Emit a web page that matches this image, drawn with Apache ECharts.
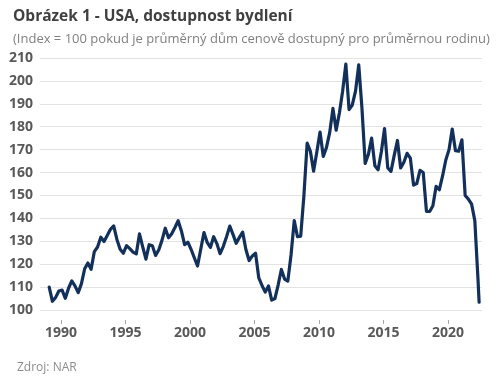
<!DOCTYPE html>
<html>
<head>
<meta charset="utf-8">
<script src="https://cdn.jsdelivr.net/npm/echarts@6/dist/echarts.min.js"></script>
<style>
html,body{margin:0;padding:0;background:#fff;}
#chart{width:500px;height:386px;}
</style>
</head>
<body>
<div id="chart"></div>
<script>
// Period of each observation (year-month), quarterly samples
const periods = [
 '1989-02','1989-05','1989-08','1989-11',
 '1990-02','1990-05','1990-08','1990-11',
 '1991-02','1991-05','1991-08','1991-11',
 '1992-02','1992-05','1992-08','1992-11',
 '1993-02','1993-05','1993-08','1993-11',
 '1994-02','1994-05','1994-08','1994-11',
 '1995-02','1995-05','1995-08','1995-11',
 '1996-02','1996-05','1996-08','1996-11',
 '1997-02','1997-05','1997-08','1997-11',
 '1998-02','1998-05','1998-08','1998-11',
 '1999-02','1999-05','1999-08','1999-11',
 '2000-02','2000-05','2000-08','2000-11',
 '2001-02','2001-05','2001-08','2001-11',
 '2002-02','2002-05','2002-08','2002-11',
 '2003-02','2003-05','2003-08','2003-11',
 '2004-02','2004-05','2004-08','2004-11',
 '2005-02','2005-05','2005-08','2005-11',
 '2006-02','2006-05','2006-08','2006-11',
 '2007-02','2007-05','2007-08','2007-11',
 '2008-02','2008-05','2008-08','2008-11',
 '2009-02','2009-05','2009-08','2009-11',
 '2010-02','2010-05','2010-08','2010-11',
 '2011-02','2011-05','2011-08','2011-11',
 '2012-02','2012-05','2012-08','2012-11',
 '2013-02','2013-05','2013-08','2013-11',
 '2014-02','2014-05','2014-08','2014-11',
 '2015-02','2015-05','2015-08','2015-11',
 '2016-02','2016-05','2016-08','2016-11',
 '2017-02','2017-05','2017-08','2017-11',
 '2018-02','2018-05','2018-08','2018-11',
 '2019-02','2019-05','2019-08','2019-11',
 '2020-02','2020-05','2020-08','2020-11',
 '2021-02','2021-05','2021-08','2021-11',
 '2022-02','2022-05','2022-06'
];

// Housing affordability index values
const affordability = [
 110, 103.8, 105.5, 108.3,
 108.7, 105.1, 109.5, 112.7,
 110.5, 107.6, 111.5, 118,
 120.5, 117.8, 125.5, 127.5,
 131.8, 129.9, 132.5, 135.2,
 136.7, 130.8, 126.5, 124.8,
 128.1, 126.8, 125.3, 124.5,
 133.2, 127.6, 122.2, 128.5,
 128, 123.8, 126.3, 130.5,
 135.7, 131.5, 133.3, 136,
 139, 134.5, 128.5, 129.6,
 126.5, 122.8, 119.2, 126.5,
 133.8, 129.5, 127.3, 132,
 129, 124.6, 127.8, 132,
 136.6, 133, 129.1, 131.7,
 134, 126.4, 121.6, 123.6,
 124.8, 114, 110.7, 107.8,
 110.5, 104.3, 105, 110.9,
 117.7, 113.5, 112.6, 124,
 139, 132, 132.2, 150,
 172.9, 169.3, 160.6, 169,
 177.7, 167, 171, 177.5,
 188, 178.5, 186, 195.5,
 207.3, 187.5, 189.5, 195.5,
 207, 188, 164, 168,
 175, 163, 161.2, 169,
 179.2, 162, 160.5, 167.5,
 174, 162, 164.5, 168.4,
 166.3, 154.5, 155.2, 161,
 160, 143, 143, 145.5,
 154, 152.5, 158.5, 165.5,
 170, 179, 169.5, 169.3,
 174.3, 150, 148.4, 146.2,
 139, 113, 103.4
];

const xTickYears = [1990, 1995, 2000, 2005, 2010, 2015, 2020];

const titleText = 'Obrázek 1 - USA, dostupnost bydlení';
const subtitleText = '(Index = 100 pokud je průměrný dům cenově dostupný pro průměrnou rodinu)';
const sourceText = 'Zdroj: NAR';

const FONT = '"Open Sans", "Noto Sans", sans-serif';

function toDecimalYear(p) {
  const [y, m] = p.split('-').map(Number);
  return y + (m - 1) / 12;
}
const seriesData = periods.map((p, i) => [toDecimalYear(p), affordability[i]]);

const chart = echarts.init(document.getElementById('chart'), null, {renderer: 'canvas'});
chart.setOption({
  animation: false,
  backgroundColor: '#ffffff',
  title: [
    {
      text: titleText,
      left: 8, top: 4,
      textStyle: {fontFamily: FONT, fontSize: 15.5, fontWeight: 'bold', color: '#404040'}
    },
    {
      text: subtitleText,
      left: 8, top: 28,
      textStyle: {fontFamily: FONT, fontSize: 13, fontWeight: 'normal', color: '#808080'}
    },
    {
      text: sourceText,
      left: 12, top: 357,
      textStyle: {fontFamily: FONT, fontSize: 12, fontWeight: 'normal', color: '#8c8c8c'}
    }
  ],
  grid: {left: 40, right: 18, top: 58, bottom: 76, containLabel: false},
  xAxis: {
    type: 'value',
    min: 1988.37,
    max: 2022.64,
    offset: 10,
    axisLine: {show: false},
    axisTick: {show: true, length: 4, lineStyle: {color: '#a6a6a6'}, customValues: xTickYears},
    axisLabel: {
      customValues: xTickYears,
      formatter: v => String(v),
      fontFamily: FONT, fontSize: 14, fontWeight: 'bold', color: '#595959', margin: 6
    },
    splitLine: {show: false}
  },
  yAxis: {
    type: 'value',
    min: 100,
    max: 210,
    interval: 10,
    axisLine: {show: false},
    axisTick: {show: false},
    axisLabel: {fontFamily: FONT, fontSize: 14, fontWeight: 'bold', color: '#595959', margin: 7},
    splitLine: {show: true, lineStyle: {color: '#e3e3e3', width: 1}}
  },
  series: [{
    type: 'line',
    data: seriesData,
    showSymbol: false,
    symbol: 'none',
    lineStyle: {color: '#12305a', width: 3.2, join: 'round', cap: 'round'},
    z: 3
  }]
});
</script>
</body>
</html>
